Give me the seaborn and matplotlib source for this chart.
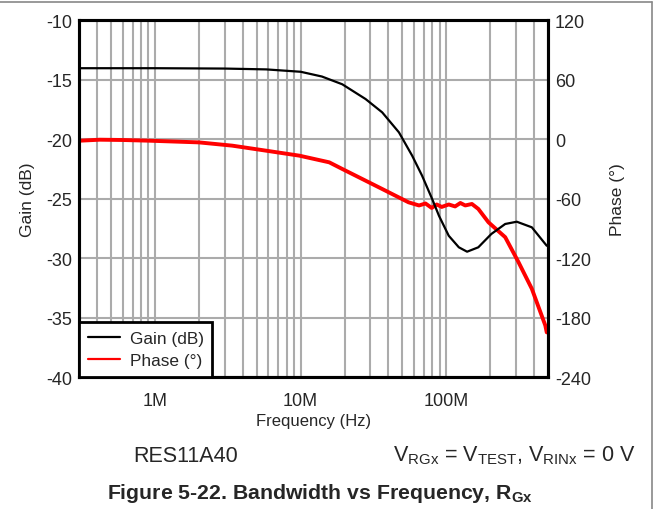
import numpy as np
import pandas as pd
import matplotlib
matplotlib.use("Agg")
import matplotlib.pyplot as plt
import seaborn as sns
from matplotlib.lines import Line2D
from matplotlib.ticker import LogLocator, NullFormatter

# data
gain_freq = [3e5, 1e6, 3e6, 5.8e6, 1e7, 1.4e7, 1.93e7, 2.79e7, 3.63e7, 4.73e7, 5.83e7,
             6.82e7, 8.0e7, 8.91e7, 1.04e8, 1.22e8, 1.39e8, 1.66e8, 2.04e8, 2.54e8,
             3.05e8, 3.87e8, 4.9e8]
gain_db = [-14.05, -14.05, -14.08, -14.15, -14.35, -14.75, -15.4, -16.64, -17.76, -19.44, -21.4,
           -23.08, -25.04, -26.45, -28.13, -29.1, -29.47, -29.1, -27.98, -27.14,
           -26.95, -27.42, -28.97]

phase_freq = [3.04e5, 4.17e5, 6.0e5, 9.1e5, 2.0e6, 3.39e6, 5.75e6, 9.8e6, 1.57e7, 1.93e7,
              3.63e7, 5.5e7, 6.5e7, 7.2e7, 7.94e7, 8.6e7, 9.3e7, 1.04e8, 1.15e8, 1.25e8,
              1.35e8, 1.5e8, 1.66e8, 1.95e8, 2.54e8, 3.13e8, 3.87e8, 4.79e8, 4.9e8]
phase_deg = [-1.7, -0.7, -1.0, -1.7, -3.4, -6.7, -11.7, -16.8, -23.5, -30.2,
             -50.4, -63.8, -67.0, -65.0, -69.5, -66.0, -68.5, -66.0, -68.0, -64.5,
             -67.0, -65.5, -70.5, -84.0, -99.0, -124.0, -151.0, -188.0, -195.0]

gain_ticks = [-40, -35, -30, -25, -20, -15, -10]
phase_ticks = [-240, -180, -120, -60, 0, 60, 120]
freq_ticks = [1e6, 1e7, 1e8]
freq_labels = ["1M", "10M", "100M"]

sns.set_style("white")
plt.rcParams['font.family'] = ['Liberation Sans', 'DejaVu Sans']
plt.rcParams['axes.unicode_minus'] = False
plt.rcParams['mathtext.fontset'] = 'custom'
plt.rcParams['mathtext.rm'] = 'Liberation Sans'
plt.rcParams['mathtext.bf'] = 'Liberation Sans:bold'

df_gain = pd.DataFrame({"freq": gain_freq, "gain": gain_db})
df_phase = pd.DataFrame({"freq": phase_freq, "phase": phase_deg})

fig = plt.figure(figsize=(6.56, 5.10), dpi=100)
ax = fig.add_axes([0.1204, 0.2588, 0.715, 0.7])
ax2 = ax.twinx()
ax.set_zorder(2)
ax.patch.set_visible(False)
ax2.set_zorder(1)

grid_col = "#ababab"
sns.lineplot(data=df_phase, x="freq", y="phase", ax=ax2, color="#ff0000", lw=2.8, sort=False)
sns.lineplot(data=df_gain, x="freq", y="gain", ax=ax, color="black", lw=1.6, sort=False)

ax.set_xscale("log")
ax.set_xlim(3e5, 5e8)
ax.set_ylim(-40, -10)
ax2.set_ylim(-240, 120)
ax.set_yticks(gain_ticks)
ax2.set_yticks(phase_ticks)
ax.set_xticks(freq_ticks, labels=freq_labels)
ax.xaxis.set_minor_locator(LogLocator(base=10, subs=np.arange(2, 10)))
ax.xaxis.set_minor_formatter(NullFormatter())

# grid drawn on the lower (phase) axes so curves sit on top
ax2.xaxis.set_visible(True)
ax2.set_xlabel("")
ax2.set_xticks(freq_ticks)
ax2.xaxis.set_minor_locator(LogLocator(base=10, subs=np.arange(2, 10)))
ax2.xaxis.set_minor_formatter(NullFormatter())
ax2.tick_params(axis="x", which="both", labelbottom=False, labeltop=False, length=0)
ax2.grid(True, which="both", axis="x", color=grid_col, lw=1.5)
ax2.grid(True, which="major", axis="y", color=grid_col, lw=1.5)
ax.grid(False)

for a in (ax, ax2):
    a.tick_params(which="both", length=0, labelsize=13, pad=5)
    for s in a.spines.values():
        s.set_color("black")
        s.set_linewidth(2.2)
ax.tick_params(axis="x", pad=11)

ax.set_xlabel("Frequency (Hz)", fontsize=12, labelpad=3)
ax.set_ylabel("Gain (dB)", fontsize=12.5, labelpad=8)
ax2.set_ylabel("Phase (°)", fontsize=12.5, labelpad=14)

handles = [Line2D([], [], color="black", lw=1.6), Line2D([], [], color="#ff0000", lw=1.6)]
leg = ax.legend(handles, ["Gain (dB)", "Phase (°)"], loc="lower left", borderaxespad=0,
                fancybox=False, framealpha=1, edgecolor="black", fontsize=12.4,
                handlelength=1.9, handletextpad=0.55, labelspacing=0.45, borderpad=0.5)
leg.get_frame().set_linewidth(2)

fig.text(186 / 656, 1 - 456 / 510, "RES11A40", ha="center", va="center", fontsize=15.5)
fig.text(636 / 656, 1 - 456 / 510,
         r"$\mathregular{V_{RGx}}$ = $\mathregular{V_{TEST}}$, $\mathregular{V_{RINx}}$ = 0 V",
         ha="right", va="center", fontsize=15.5)
fig.text(320 / 656, 1 - 494 / 510,
         r"Figure 5-22. Bandwidth vs Frequency, $\mathbf{R_{Gx}}$",
         ha="center", va="center", fontsize=15.3, fontweight="bold")

# page frame lines (top and right)
fig.add_artist(Line2D([0, 652 / 656], [1 - 2.5 / 510, 1 - 2.5 / 510], transform=fig.transFigure,
                      color="#888888", lw=1.2))
fig.add_artist(Line2D([652 / 656, 652 / 656], [0, 1 - 2.5 / 510], transform=fig.transFigure,
                      color="#888888", lw=1.2))

fig.savefig("out.png", dpi=100)
